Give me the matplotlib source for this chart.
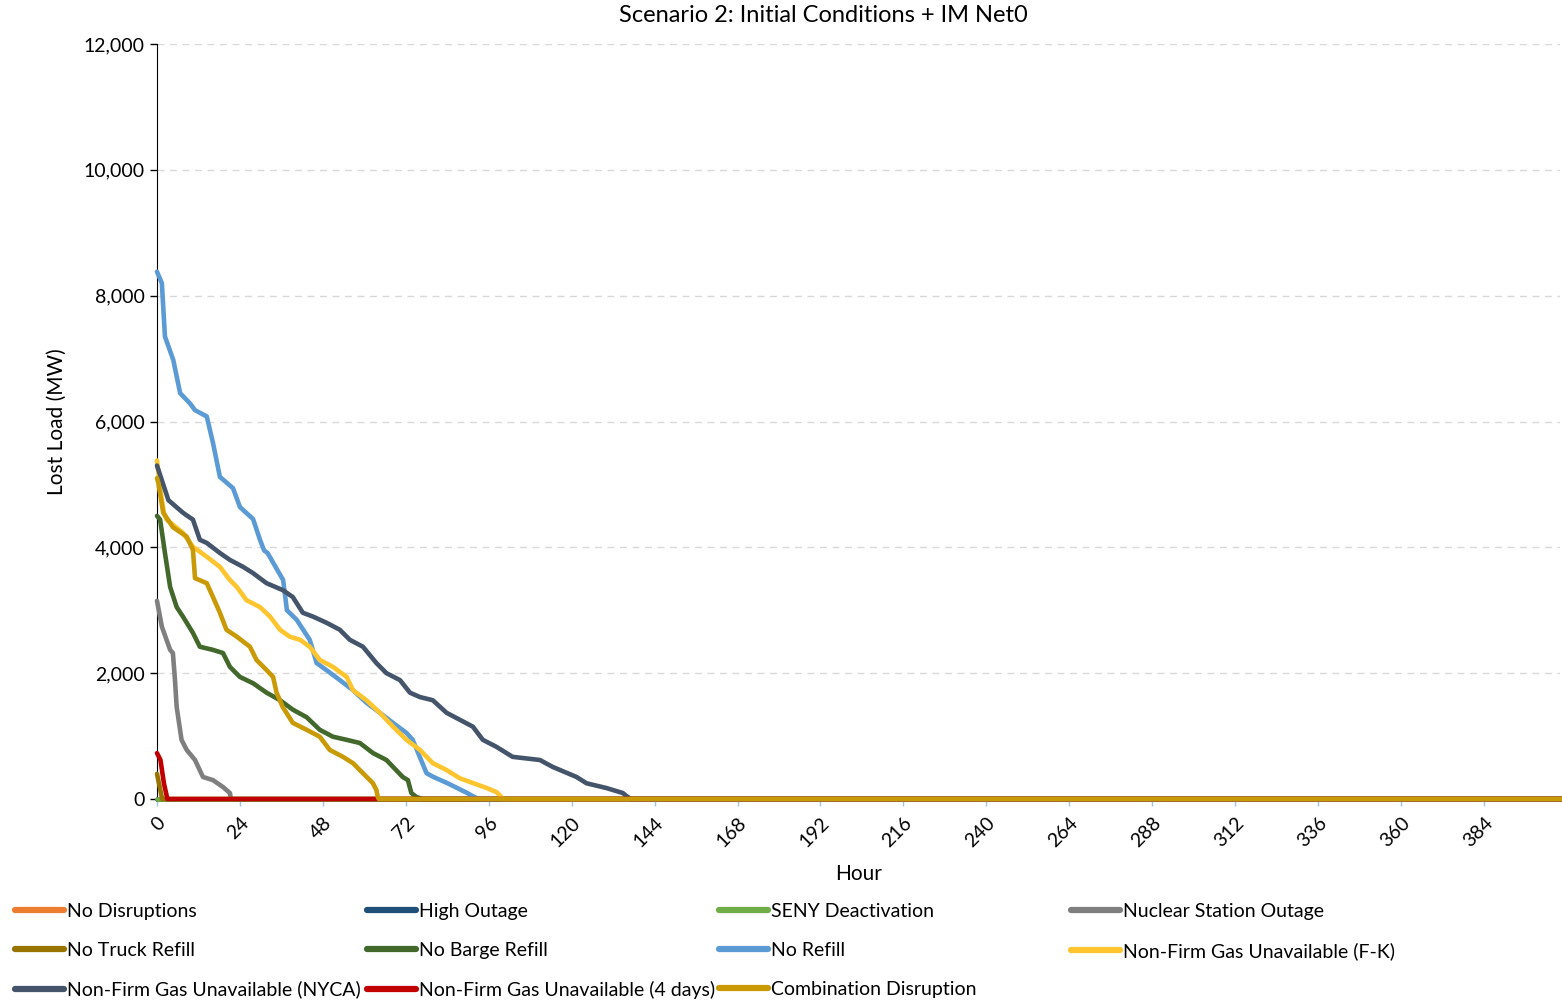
import matplotlib.pyplot as plt
from matplotlib.lines import Line2D

plt.rcParams['font.family'] = ['Lato', 'DejaVu Sans']

END_HOUR = 408

# series data (hour, lost load MW); each series goes to 0 afterwards
no_refill_h = [0, 1.4, 2.3, 4.7, 6.7, 9.5, 11, 14.4, 16.2, 18.2, 22, 24, 27.8, 29.8, 31, 32,
               36.5, 37.6, 40.4, 44.2, 46.2, 49, 52.9, 56.7, 60.6, 64.5, 68.3, 72.2, 74, 78,
               80, 84.1, 89.8, 91.2, 93]
no_refill_v = [8380, 8200, 7350, 6980, 6450, 6290, 6180, 6080, 5660, 5120, 4940, 4640, 4450,
               4120, 3950, 3910, 3480, 3000, 2850, 2530, 2160, 2050, 1890, 1730, 1530, 1370,
               1210, 1050, 940, 410, 350, 250, 95, 50, 0]

nyca_h = [0, 3.3, 7.5, 10.4, 12.4, 14.4, 18.2, 21.1, 24.9, 27.8, 31.7, 36.4, 39.3, 42.2, 45.1,
          49.1, 52.9, 55.8, 59.6, 63.5, 66.4, 70.3, 73.2, 76.1, 79.8, 83.8, 87.6, 91.4, 94.3,
          98.2, 102.9, 110.8, 114.5, 121.4, 124.3, 130, 134.8, 135.8, 137]
nyca_v = [5300, 4750, 4550, 4440, 4120, 4070, 3910, 3800, 3690, 3590, 3430, 3320, 3210, 2960,
          2900, 2800, 2690, 2530, 2420, 2160, 2000, 1890, 1690, 1620, 1570, 1370, 1260, 1150,
          940, 830, 670, 620, 510, 350, 250, 175, 95, 50, 0]

fk_h = [0, 1, 2, 2.8, 7.5, 10.4, 14.4, 18.2, 21.1, 23.1, 25.9, 29.8, 32.7, 35.6, 38.4, 41.4,
        44.2, 47.1, 50.9, 54.9, 56.7, 60.6, 64.5, 68.3, 72.2, 76.1, 79.8, 83.8, 87.6, 91.6,
        95.4, 98.2, 99.2, 100]
fk_v = [5380, 4900, 4550, 4440, 4230, 4010, 3850, 3690, 3480, 3370, 3160, 3050, 2900, 2690,
        2580, 2530, 2420, 2210, 2100, 1940, 1730, 1570, 1370, 1150, 940, 780, 570, 460, 330,
        250, 175, 110, 60, 0]

combo_h = [0, 0.4, 1.8, 4.6, 8.6, 10.4, 11, 14.4, 16.2, 18.2, 20.1, 23.1, 26.9, 28.8, 31.7,
           33.6, 34.6, 36.4, 39.3, 43.3, 47.1, 50, 53.8, 56.7, 59.6, 62.5, 63.5, 63.9, 64.2]
combo_v = [5100, 5020, 4550, 4320, 4170, 3960, 3510, 3430, 3210, 2960, 2690, 2580, 2420, 2210,
           2050, 1940, 1690, 1460, 1210, 1100, 990, 780, 670, 570, 410, 250, 140, 30, 0]

barge_h = [0, 0.9, 2.3, 3.8, 5.7, 7.5, 10.4, 12.4, 16.2, 19.1, 21.1, 24, 27.8, 31.7, 35.6,
           39.3, 43.3, 47.1, 50.9, 54.9, 58.7, 62.5, 66.4, 71.1, 72.6, 73.6, 75.1, 77]
barge_v = [4500, 4440, 3910, 3370, 3050, 2900, 2640, 2420, 2370, 2320, 2100, 1940, 1840, 1690,
           1570, 1420, 1300, 1100, 990, 940, 890, 730, 620, 350, 300, 95, 30, 0]

nuclear_h = [0, 1.4, 3.8, 4.6, 5.2, 5.7, 7.1, 8.6, 11, 13.3, 16.2, 19.1, 21.1, 21.4]
nuclear_v = [3150, 2740, 2370, 2320, 1890, 1460, 940, 780, 620, 350, 300, 190, 95, 0]

four_days_h = [0, 1, 2, 3]
four_days_v = [730, 620, 250, 0]

truck_h = [0, 1.5]
truck_v = [400, 0]

zero_h = [0]
zero_v = [0]

labels = ['No Disruptions', 'High Outage', 'SENY Deactivation', 'Nuclear Station Outage',
          'No Truck Refill', 'No Barge Refill', 'No Refill', 'Non-Firm Gas Unavailable (F-K)',
          'Non-Firm Gas Unavailable (NYCA)', 'Non-Firm Gas Unavailable (4 days)',
          'Combination Disruption']
colors = ['#ED7D31', '#1F4E79', '#70AD47', '#7F7F7F', '#997300', '#43682B', '#5B9BD5',
          '#FFC52E', '#44546A', '#C00000', '#C99A06']
series = [(zero_h, zero_v), (zero_h, zero_v), (zero_h, zero_v), (nuclear_h, nuclear_v),
          (truck_h, truck_v), (barge_h, barge_v), (no_refill_h, no_refill_v), (fk_h, fk_v),
          (nyca_h, nyca_v), (four_days_h, four_days_v), (combo_h, combo_v)]

fig = plt.figure(figsize=(15.62, 10), dpi=100)
ax = fig.add_axes([157 / 1562, 1 - 799 / 1000, (1560 - 157) / 1562, (799 - 44) / 1000])

for (h, v), lab, c in zip(series, labels, colors):
    ax.plot(list(h) + [END_HOUR], list(v) + [0], color=c, lw=3.3, label=lab, zorder=3,
            solid_joinstyle='round', solid_capstyle='round', clip_on=False)

ax.set_xlim(0, 406)
ax.set_ylim(0, 12000)
ax.set_xticks(range(0, 385, 24))
ax.set_yticks(range(0, 12001, 2000))
ax.set_yticklabels([f'{v:,}' for v in range(0, 12001, 2000)])
ax.yaxis.grid(True, color='#D9D9D9', ls=(0, (5, 4)), lw=1)
ax.set_axisbelow(True)

for s in ['top', 'right']:
    ax.spines[s].set_visible(False)
ax.spines['left'].set_color('black')
ax.spines['bottom'].set_color('#BFBFBF')
ax.tick_params(axis='y', length=5, width=1, color='black', labelsize=14, pad=4)
ax.tick_params(axis='x', length=5, width=1, color='#9DC3E6', labelsize=14, pad=6)
for t in ax.get_xticklabels():
    t.set_rotation(45)
    t.set_ha('right')
    t.set_va('top')
    t.set_rotation_mode('anchor')

ax.set_ylabel('Lost Load (MW)', fontsize=15, labelpad=12)
ax.set_xlabel('Hour', fontsize=15, labelpad=10)
fig.text(823 / 1562, 1 - 16 / 1000, 'Scenario 2: Initial Conditions + IM Net0',
         ha='center', va='center', fontsize=17)

# legend: 4 columns, row-major order
col_x = [15, 367, 719, 1071]
for ci in range(4):
    idx = list(range(ci, len(labels), 4))
    handles = [Line2D([], [], color=colors[i], lw=4.5, solid_capstyle='round') for i in idx]
    fig.legend(handles, [labels[i] for i in idx], loc='upper left',
               bbox_to_anchor=(col_x[ci] / 1562, 1 - 903 / 1000), frameon=False,
               fontsize=14, handlelength=2.5, handletextpad=0.15, labelspacing=1.12,
               borderpad=0, borderaxespad=0)

fig.savefig('out.png', dpi=100)
